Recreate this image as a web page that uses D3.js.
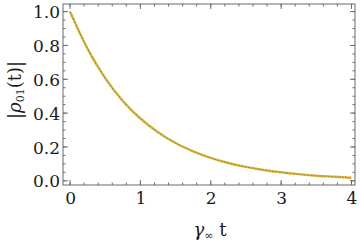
<!DOCTYPE html>
<html>
<head>
<meta charset="utf-8">
<script src="https://cdn.jsdelivr.net/npm/d3@7"></script>
<style>
  body { margin: 0; background: #fff; }
  svg { display: block; }
</style>
</head>
<body>
<svg id="chart" width="360" height="243"></svg>
<script>
// values
const times = [0, 0.25, 0.5, 0.75, 1, 1.25, 1.5, 1.75, 2, 2.25, 2.5, 2.75, 3, 3.25, 3.5, 3.75, 4];
const coherence = [1.0, 0.78, 0.607, 0.472, 0.368, 0.287, 0.223, 0.174, 0.135, 0.105, 0.082, 0.064, 0.05, 0.039, 0.03, 0.024, 0.018];
const xTicks = [0, 1, 2, 3, 4];
const yTicks = [0, 0.2, 0.4, 0.6, 0.8, 1.0];

const serif = "'DejaVu Serif', serif";
const frameColor = "#6b6b6b";

const svg = d3.select("#chart");
const frame = { left: 63, right: 355, top: 4, bottom: 185 };

const x = d3.scaleLinear().domain([-0.1, 4.05]).range([frame.left, frame.right]);
const y = d3.scaleLinear().domain([-0.025, 1.045]).range([frame.bottom, frame.top]);

const minorX = d3.range(0, 4.01, 0.2);
const minorY = d3.range(0, 1.01, 0.05);

// frame box
svg.append("rect")
    .attr("x", frame.left).attr("y", frame.top)
    .attr("width", frame.right - frame.left).attr("height", frame.bottom - frame.top)
    .attr("fill", "none").attr("stroke", frameColor).attr("stroke-width", 1);

// minor + major ticks on all four sides, pointing inward
function tickMarks(vals, len, side) {
    vals.forEach(v => {
        let l = svg.append("line").attr("stroke", frameColor).attr("stroke-width", 1);
        if (side === "bottom") l.attr("x1", x(v)).attr("x2", x(v)).attr("y1", frame.bottom).attr("y2", frame.bottom - len);
        if (side === "top") l.attr("x1", x(v)).attr("x2", x(v)).attr("y1", frame.top).attr("y2", frame.top + len);
        if (side === "left") l.attr("y1", y(v)).attr("y2", y(v)).attr("x1", frame.left).attr("x2", frame.left + len);
        if (side === "right") l.attr("y1", y(v)).attr("y2", y(v)).attr("x1", frame.right).attr("x2", frame.right - len);
    });
}
["bottom", "top"].forEach(s => { tickMarks(minorX, 2.5, s); tickMarks(xTicks, 5, s); });
["left", "right"].forEach(s => { tickMarks(minorY, 2.5, s); tickMarks(yTicks, 5, s); });

// tick labels via axes (lines hidden)
const xAxis = svg.append("g")
    .attr("transform", "translate(0," + frame.bottom + ")")
    .call(d3.axisBottom(x).tickValues(xTicks).tickFormat(d3.format("d")).tickSize(0).tickPadding(6));
xAxis.select(".domain").remove();
xAxis.selectAll(".tick text")
    .attr("dy", "0.75em")
    .style("font-family", serif).style("font-size", "17px").style("fill", "#1a1a1a");

const yAxis = svg.append("g")
    .attr("transform", "translate(" + frame.left + ",0)")
    .call(d3.axisLeft(y).tickValues(yTicks).tickFormat(d3.format(".1f")).tickSize(0).tickPadding(3));
yAxis.select(".domain").remove();
yAxis.selectAll(".tick text")
    .attr("dy", "0.36em")
    .style("font-family", serif).style("font-size", "17px").style("fill", "#1a1a1a");

// curve
const line = d3.line().x((d, i) => x(times[i])).y(d => y(d)).curve(d3.curveMonotoneX);
svg.append("path").datum(coherence)
    .attr("d", line).attr("fill", "none")
    .attr("stroke", "#e2b43a").attr("stroke-width", 2.4);
svg.append("path").datum(coherence)
    .attr("d", line).attr("fill", "none")
    .attr("stroke", "#8c9a3c").attr("stroke-width", 1.1)
    .attr("stroke-dasharray", "2,1.5");

// axis labels
svg.append("text")
    .attr("x", 210).attr("y", 236)
    .attr("text-anchor", "middle")
    .style("font-family", serif)
    .style("font-size", "18px").style("fill", "#1a1a1a")
    .html('<tspan font-style="italic">γ</tspan><tspan font-size="11px" dy="3">∞</tspan><tspan dy="-3"> t</tspan>');

svg.append("text")
    .attr("transform", "translate(21,90) rotate(-90)")
    .attr("text-anchor", "middle")
    .style("font-family", serif)
    .style("font-size", "18px").style("fill", "#1a1a1a")
    .html('|<tspan font-style="italic">ρ</tspan><tspan font-size="11px" dy="3">01</tspan><tspan dy="-3">(t)|</tspan>');
</script>
</body>
</html>
